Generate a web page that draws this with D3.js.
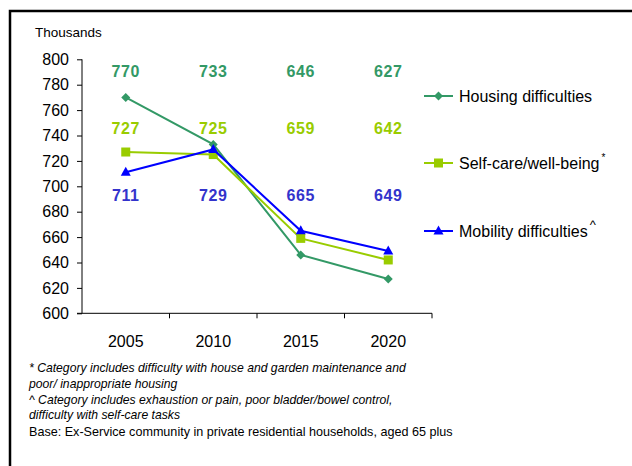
<!DOCTYPE html>
<html><head><meta charset="utf-8">
<script src="https://cdn.jsdelivr.net/npm/d3@7"></script>
<style>
html,body{margin:0;padding:0;background:#fff;}
svg{display:block;font-family:"Liberation Sans",Arial,sans-serif;}
</style></head>
<body>
<svg id="chart" width="632" height="466"></svg>
<script>
const years = ["2005","2010","2015","2020"];
const housing = [770,733,646,627];
const selfCare = [727,725,659,642];
const mobility = [711,729,665,649];
const yTicks = [600,620,640,660,680,700,720,740,760,780,800];
const seriesNames = ["Housing difficulties","Self-care/well-being","Mobility difficulties"];
const seriesSup = ["","*","^"];
const footnotes = [
  {text:"* Category includes difficulty with house and garden maintenance and", italic:true},
  {text:"poor/ inappropriate housing", italic:true},
  {text:"^ Category includes exhaustion or pain, poor bladder/bowel control,", italic:true},
  {text:"difficulty with self-care tasks", italic:true},
  {text:"Base: Ex-Service community in private residential households, aged 65 plus", italic:false}
];

const svg = d3.select("#chart");
const styles = [
  {line:"#339966", label:"#339966", marker:"diamond", labelY:71},
  {line:"#99cc00", label:"#99cc00", marker:"square", labelY:128},
  {line:"#0000ff", label:"#3333cc", marker:"triangle", labelY:195}
];
const data = [housing, selfCare, mobility];

// frame
svg.append("path").attr("d","M10,470 L10,11 L640,11").attr("fill","none").attr("stroke","#000").attr("stroke-width",2.5);

const x = d3.scaleBand().domain(years).range([82,432]);
const y = d3.scaleLinear().domain([600,800]).range([313.3,59.3]);

// y axis
const yAxis = svg.append("g").attr("transform","translate(82,0)")
  .call(d3.axisLeft(y).tickValues(yTicks).tickSize(5).tickPadding(8));
yAxis.select(".domain").attr("stroke","#000").attr("d","M0,59.3V313.3");
yAxis.selectAll("text").attr("font-size",16).attr("fill","#000").attr("font-family","Liberation Sans, Arial, sans-serif");
yAxis.selectAll("line").attr("stroke","#000").attr("x2",-5).attr("x1",0);

// x axis
const xAxis = svg.append("g").attr("transform","translate(0,313.3)")
  .call(d3.axisBottom(x).tickSize(0).tickPadding(22));
xAxis.select(".domain").attr("stroke","#000").attr("d","M77,0H432");
xAxis.selectAll("text").attr("font-size",16).attr("fill","#000").attr("font-family","Liberation Sans, Arial, sans-serif");
xAxis.selectAll(".sep").data(years).enter().append("line")
  .attr("x1",d=>x(d)+x.bandwidth()).attr("x2",d=>x(d)+x.bandwidth())
  .attr("y1",0).attr("y2",5).attr("stroke","#000");

svg.append("text").attr("x",35).attr("y",37).attr("font-size",13.5).text("Thousands");

const cx = d => x(d)+x.bandwidth()/2;
const line = d3.line().x((d,i)=>cx(years[i])).y(d=>y(d));

function marker(g, type, color, px, py){
  if(type==="diamond"){
    g.append("path").attr("d",`M${px},${py-4.5}L${px+4.5},${py}L${px},${py+4.5}L${px-4.5},${py}Z`).attr("fill",color);
  } else if(type==="square"){
    g.append("rect").attr("x",px-4.5).attr("y",py-4.5).attr("width",9).attr("height",9).attr("fill",color);
  } else {
    g.append("path").attr("d",`M${px},${py-5.5}L${px+5},${py+3.5}L${px-5},${py+3.5}Z`).attr("fill",color);
  }
}

data.forEach((vals,si)=>{
  const st = styles[si];
  const g = svg.append("g");
  g.append("path").attr("d",line(vals)).attr("fill","none").attr("stroke",st.line).attr("stroke-width",2);
  vals.forEach((v,i)=>marker(g, st.marker, st.line, cx(years[i]), y(v)));
  vals.forEach((v,i)=>{
    g.append("text").attr("x",cx(years[i])).attr("y",st.labelY).attr("dy","0.36em")
      .attr("text-anchor","middle").attr("font-size",16).attr("font-weight","bold")
      .attr("letter-spacing",0.6).attr("fill",st.label).text(v);
  });
});

// legend
const legY = [96,163,231];
seriesNames.forEach((n,i)=>{
  const st = styles[i];
  const g = svg.append("g");
  g.append("line").attr("x1",424).attr("x2",453).attr("y1",legY[i]).attr("y2",legY[i]).attr("stroke",st.line).attr("stroke-width",2);
  marker(g, st.marker, st.line, 438.5, legY[i]);
  const t = g.append("text").attr("x",459).attr("y",legY[i]).attr("dy","0.36em").attr("font-size",16).attr("fill","#000");
  t.append("tspan").text(n);
  if(seriesSup[i]) t.append("tspan").attr("dy",-8).attr("dx",2).attr("font-size",seriesSup[i]==="*"?10:13).text(seriesSup[i]);
});

// footnotes
const fy = [368,384,400,415,431];
footnotes.forEach((f,i)=>{
  svg.append("text").attr("x",29).attr("y",fy[i]).attr("dy","0.36em").attr("font-size",f.italic?12.2:12.6)
    .attr("font-style",f.italic?"italic":"normal").attr("fill","#000").text(f.text);
});
</script>
</body></html>
